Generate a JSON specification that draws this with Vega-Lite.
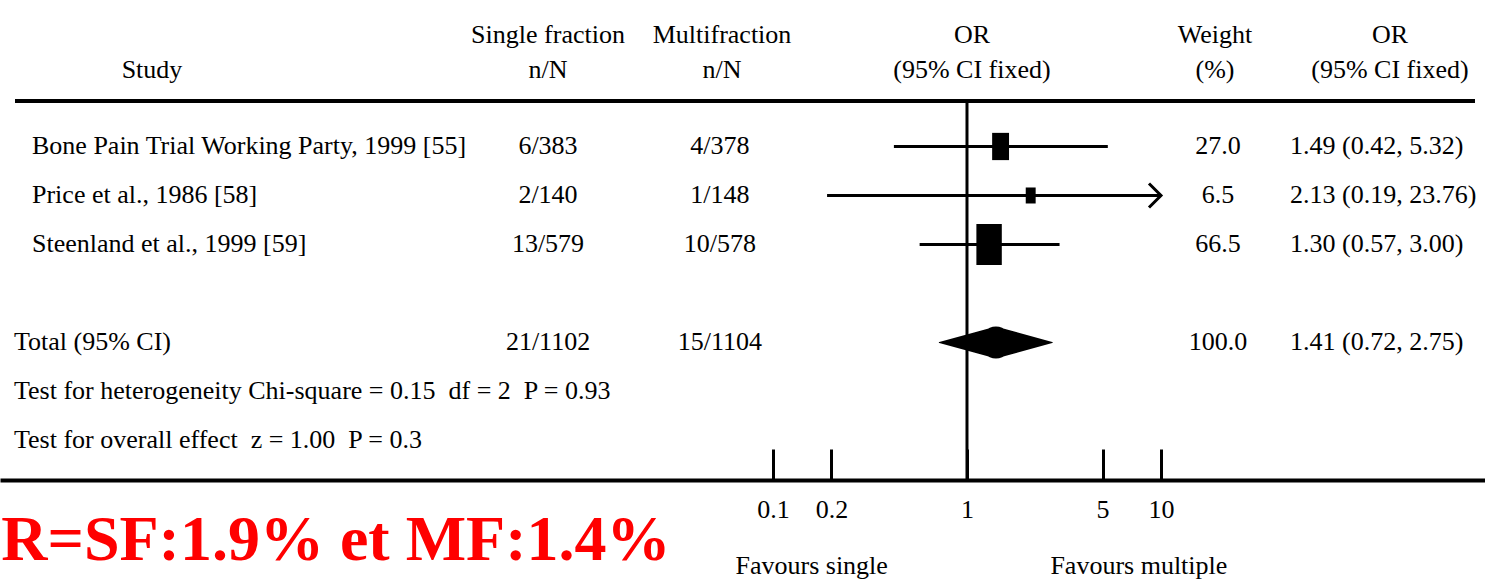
{
  "$schema": "https://vega.github.io/schema/vega-lite/v6.json",
  "width": 1485,
  "height": 480,
  "autosize": {"type": "none"},
  "padding": {"left": 0, "top": 0, "right": 0, "bottom": 102},
  "background": "white",
  "config": {
    "font": "Liberation Serif",
    "view": {"stroke": null},
    "text": {"font": "Liberation Serif", "fontSize": 26, "color": "black", "baseline": "middle"}
  },
  "title": {
    "text": "CR=SF:1.9% et MF:1.4%",
    "orient": "bottom",
    "anchor": "start",
    "frame": "group",
    "dx": -45,
    "offset": -18,
    "baseline": "alphabetic",
    "font": "Liberation Serif",
    "fontSize": 64,
    "fontWeight": "bold",
    "color": "#ff0000"
  },
  "datasets": {
    "table": [
      {"row": "r1", "kind": "study", "study": "Bone Pain Trial Working Party, 1999 [55]", "single": "6/383", "multi": "4/378", "or": 1.49, "lower": 0.42, "upper": 5.32, "weight": 27.0, "ci": "1.49 (0.42, 5.32)"},
      {"row": "r2", "kind": "study", "study": "Price et al., 1986 [58]", "single": "2/140", "multi": "1/148", "or": 2.13, "lower": 0.19, "upper": 23.76, "weight": 6.5, "ci": "2.13 (0.19, 23.76)"},
      {"row": "r3", "kind": "study", "study": "Steenland et al., 1999 [59]", "single": "13/579", "multi": "10/578", "or": 1.30, "lower": 0.57, "upper": 3.00, "weight": 66.5, "ci": "1.30 (0.57, 3.00)"},
      {"row": "total", "kind": "total", "study": "Total (95% CI)", "single": "21/1102", "multi": "15/1104", "or": 1.41, "lower": 0.72, "upper": 2.75, "weight": 100.0, "ci": "1.41 (0.72, 2.75)"},
      {"row": "het", "kind": "test", "study": "Test for heterogeneity Chi-square = 0.15\u00a0\u00a0df = 2\u00a0\u00a0P = 0.93"},
      {"row": "eff", "kind": "test", "study": "Test for overall effect\u00a0\u00a0z = 1.00\u00a0\u00a0P = 0.3"}
    ],
    "header": [
      {"row": "hdr", "col": "study", "label": "\nStudy"},
      {"row": "hdr", "col": "single", "label": "Single fraction\nn/N"},
      {"row": "hdr", "col": "multi", "label": "Multifraction\nn/N"},
      {"row": "hdr", "col": "or", "label": "OR\n(95% CI fixed)"},
      {"row": "hdr", "col": "weight", "label": "Weight\n(%)"},
      {"row": "hdr", "col": "ci", "label": "OR\n(95% CI fixed)"}
    ]
  },
  "encoding": {
    "y": {
      "field": "row",
      "type": "nominal",
      "scale": {"type": "point", "domain": ["hdr", "top", "r1", "r2", "r3", "gap", "total", "het", "eff"], "padding": 0.898, "align": 0.551},
      "axis": null
    }
  },
  "layer": [
    {
      "data": {"name": "table"},
      "transform": [{"filter": "datum.kind === 'study' && datum.upper <= 10"}],
      "mark": {"type": "rule", "strokeWidth": 3, "color": "black"},
      "encoding": {
        "x": {
          "field": "lower",
          "type": "quantitative",
          "scale": {"type": "log", "domain": [0.000010364, 467.9], "nice": false},
          "axis": {
            "values": [0.1, 0.2, 1, 5, 10],
            "format": "~g",
            "grid": false,
            "domainColor": "black",
            "domainWidth": 4,
            "tickColor": "black",
            "tickWidth": 3,
            "tickSize": -31,
            "labelFont": "Liberation Serif",
            "labelFontSize": 26,
            "labelColor": "black",
            "labelBaseline": "middle",
            "labelPadding": 60,
            "labelFlush": false,
            "labelOverlap": false,
            "title": "Favours single\u00a0\u00a0\u00a0\u00a0\u00a0\u00a0\u00a0\u00a0\u00a0\u00a0\u00a0\u00a0\u00a0\u00a0\u00a0\u00a0\u00a0\u00a0\u00a0\u00a0\u00a0\u00a0\u00a0\u00a0\u00a0Favours multiple",
            "titleFont": "Liberation Serif",
            "titleFontSize": 26,
            "titleFontWeight": "normal",
            "titleColor": "black",
            "titleAnchor": "start",
            "titleAlign": "left",
            "titleX": 735,
            "titleY": 93,
            "titleBaseline": "alphabetic"
          }
        },
        "x2": {"field": "upper"}
      }
    },
    {
      "data": {"name": "table"},
      "transform": [{"filter": "datum.kind === 'study' && datum.upper > 10"}],
      "mark": {"type": "rule", "strokeWidth": 3, "color": "black"},
      "encoding": {
        "x": {"field": "lower", "type": "quantitative"},
        "x2": {"datum": 10}
      }
    },
    {
      "data": {"name": "table"},
      "transform": [{"filter": "datum.kind === 'study' && datum.upper > 10"}],
      "mark": {"type": "point", "shape": "M-1,-1L0,0L-1,1", "filled": false, "stroke": "black", "strokeWidth": 3, "size": 576, "opacity": 1},
      "encoding": {
        "x": {"datum": 10, "type": "quantitative"}
      }
    },
    {
      "data": {"values": [{}]},
      "mark": {"type": "rule", "strokeWidth": 4, "color": "black", "yOffset": 3.5},
      "encoding": {
        "y": {"datum": "top", "type": "nominal"},
        "x": {"datum": 0.000012384, "type": "quantitative"},
        "x2": {"datum": 415.5}
      }
    },
    {
      "data": {"values": [{}]},
      "mark": {"type": "rule", "strokeWidth": 3, "color": "black", "yOffset": 3.5},
      "encoding": {
        "y": {"datum": "top", "type": "nominal"},
        "y2": {"value": "height"},
        "x": {"datum": 1, "type": "quantitative"}
      }
    },
    {
      "data": {"name": "table"},
      "transform": [{"filter": "datum.kind === 'study'"}],
      "mark": {"type": "point", "shape": "M-0.62,-1H0.62V1H-0.62Z", "filled": true, "color": "black", "opacity": 1},
      "encoding": {
        "x": {"field": "or", "type": "quantitative"},
        "size": {"field": "weight", "type": "quantitative", "scale": {"domain": [6.5, 66.5], "range": [256, 1681]}, "legend": null}
      }
    },
    {
      "data": {"name": "table"},
      "transform": [
        {"filter": "datum.kind === 'total'"},
        {"fold": ["lower", "or", "upper"], "as": ["pt", "val"]}
      ],
      "mark": {"type": "trail", "color": "black"},
      "encoding": {
        "x": {"field": "val", "type": "quantitative"},
        "size": {"field": "pt", "type": "ordinal", "scale": {"type": "ordinal", "domain": ["lower", "or", "upper"], "range": [0, 32, 0]}, "legend": null}
      }
    },
    {
      "data": {"name": "table"},
      "transform": [{"filter": "datum.kind === 'study'"}],
      "mark": {"type": "text", "align": "left"},
      "encoding": {
        "x": {"datum": 0.000015153, "type": "quantitative"},
        "text": {"field": "study", "type": "nominal"}
      }
    },
    {
      "data": {"name": "table"},
      "transform": [{"filter": "datum.kind !== 'study'"}],
      "mark": {"type": "text", "align": "left"},
      "encoding": {
        "x": {"datum": 0.000012238, "type": "quantitative"},
        "text": {"field": "study", "type": "nominal"}
      }
    },
    {
      "data": {"name": "table"},
      "transform": [{"filter": "isValid(datum.single)"}],
      "mark": {"type": "text", "align": "center"},
      "encoding": {
        "x": {"datum": 0.006923, "type": "quantitative"},
        "text": {"field": "single", "type": "nominal"}
      }
    },
    {
      "data": {"name": "table"},
      "transform": [{"filter": "isValid(datum.multi)"}],
      "mark": {"type": "text", "align": "center"},
      "encoding": {
        "x": {"datum": 0.05329, "type": "quantitative"},
        "text": {"field": "multi", "type": "nominal"}
      }
    },
    {
      "data": {"name": "table"},
      "transform": [{"filter": "isValid(datum.weight)"}],
      "mark": {"type": "text", "align": "center"},
      "encoding": {
        "x": {"datum": 19.67, "type": "quantitative"},
        "text": {"field": "weight", "type": "quantitative", "format": ".1f"}
      }
    },
    {
      "data": {"name": "table"},
      "transform": [{"filter": "isValid(datum.ci)"}],
      "mark": {"type": "text", "align": "left"},
      "encoding": {
        "x": {"datum": 46.23, "type": "quantitative"},
        "text": {"field": "ci", "type": "nominal"}
      }
    },
    {
      "data": {"name": "header"},
      "transform": [{"filter": "datum.col === 'study'"}],
      "mark": {"type": "text", "align": "center", "lineBreak": "\n", "lineHeight": 35, "dy": -13.5},
      "encoding": {
        "x": {"datum": 0.00006295, "type": "quantitative"},
        "text": {"field": "label", "type": "nominal"}
      }
    },
    {
      "data": {"name": "header"},
      "transform": [{"filter": "datum.col === 'single'"}],
      "mark": {"type": "text", "align": "center", "lineBreak": "\n", "lineHeight": 35, "dy": -13.5},
      "encoding": {
        "x": {"datum": 0.006923, "type": "quantitative"},
        "text": {"field": "label", "type": "nominal"}
      }
    },
    {
      "data": {"name": "header"},
      "transform": [{"filter": "datum.col === 'multi'"}],
      "mark": {"type": "text", "align": "center", "lineBreak": "\n", "lineHeight": 35, "dy": -13.5},
      "encoding": {
        "x": {"datum": 0.05461, "type": "quantitative"},
        "text": {"field": "label", "type": "nominal"}
      }
    },
    {
      "data": {"name": "header"},
      "transform": [{"filter": "datum.col === 'or'"}],
      "mark": {"type": "text", "align": "center", "lineBreak": "\n", "lineHeight": 35, "dy": -13.5},
      "encoding": {
        "x": {"datum": 1.0611, "type": "quantitative"},
        "text": {"field": "label", "type": "nominal"}
      }
    },
    {
      "data": {"name": "header"},
      "transform": [{"filter": "datum.col === 'weight'"}],
      "mark": {"type": "text", "align": "center", "lineBreak": "\n", "lineHeight": 35, "dy": -13.5},
      "encoding": {
        "x": {"datum": 18.98, "type": "quantitative"},
        "text": {"field": "label", "type": "nominal"}
      }
    },
    {
      "data": {"name": "header"},
      "transform": [{"filter": "datum.col === 'ci'"}],
      "mark": {"type": "text", "align": "center", "lineBreak": "\n", "lineHeight": 35, "dy": -13.5},
      "encoding": {
        "x": {"datum": 151.5, "type": "quantitative"},
        "text": {"field": "label", "type": "nominal"}
      }
    }
  ]
}
